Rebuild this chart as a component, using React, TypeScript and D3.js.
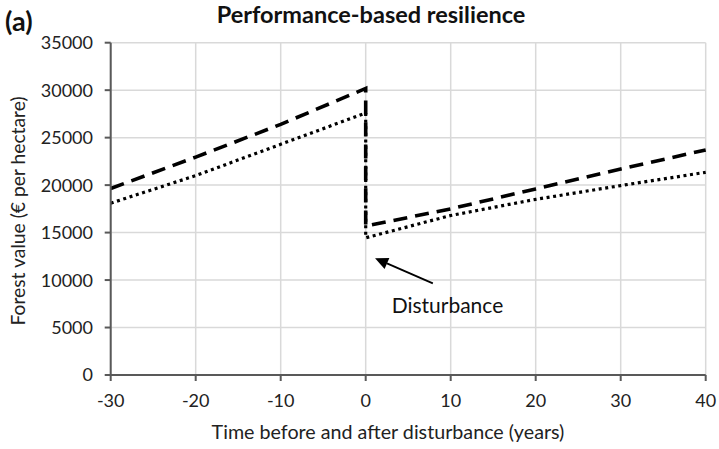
import React from "react";
import * as d3 from "d3";

const years = [-30, -20, -10, 0, 0, 10, 20, 30, 40];
const dashedValues = [19650, 22950, 26400, 30180, 15680, 17500, 19600, 21700, 23700];
const dottedValues = [18100, 21000, 24300, 27600, 14450, 16800, 18500, 19950, 21350];
const xTicks = [-30, -20, -10, 0, 10, 20, 30, 40];
const yTicks = [0, 5000, 10000, 15000, 20000, 25000, 30000, 35000];
const arrowFrom = [7.9, 9650];
const arrowTo = [1.1, 12300];
const labelAt = [3.05, 6500];

const W = 719, H = 449;
const left = 110.7, right = 705.7, top = 42.7, bottom = 375;
const FONT = "Lato, 'Open Sans', sans-serif";

export default function App() {
  const x = d3.scaleLinear().domain([-30, 40]).range([left, right]);
  const y = d3.scaleLinear().domain([0, 35000]).range([bottom, top]);
  const line = d3
    .line<number>()
    .x((_, i) => x(years[i]))
    .y((d) => y(d));
  const axisColor = "#595959";
  const gridColor = "#d9d9d9";

  const ax0 = x(arrowFrom[0]), ay0 = y(arrowFrom[1]);
  const ax1 = x(arrowTo[0]), ay1 = y(arrowTo[1]);
  const ang = Math.atan2(ay1 - ay0, ax1 - ax0);
  const hl = 13, hw = 6;
  const bx = ax1 - hl * Math.cos(ang), by = ay1 - hl * Math.sin(ang);
  const head = [
    [ax1, ay1],
    [bx + hw * Math.sin(ang), by - hw * Math.cos(ang)],
    [bx - hw * Math.sin(ang), by + hw * Math.cos(ang)],
  ];

  return (
    <svg
      width={W}
      height={H}
      style={{ position: "absolute", left: 0, top: 0, background: "#fff" }}
      fontFamily={FONT}
    >
      <rect width={W} height={H} fill="#fff" />
      {yTicks.map((t) => (
        <line key={"gy" + t} x1={left} x2={right} y1={y(t)} y2={y(t)} stroke={gridColor} strokeWidth={1.5} />
      ))}
      {xTicks.map((t) => (
        <line key={"gx" + t} x1={x(t)} x2={x(t)} y1={top} y2={bottom} stroke={gridColor} strokeWidth={1.5} />
      ))}
      <path d={line(dashedValues) || ""} fill="none" stroke="#000" strokeWidth={3.6} strokeDasharray="14 8" />
      <path d={line(dottedValues) || ""} fill="none" stroke="#000" strokeWidth={3.2} strokeDasharray="3 3.6" />
      {/* axes */}
      <line x1={left} x2={left} y1={top} y2={bottom} stroke={axisColor} strokeWidth={2} />
      <line x1={left} x2={right} y1={bottom} y2={bottom} stroke={axisColor} strokeWidth={2} />
      {yTicks.map((t) => (
        <g key={"ty" + t}>
          <line x1={left - 6} x2={left} y1={y(t)} y2={y(t)} stroke={axisColor} strokeWidth={2} />
          <text x={93} y={y(t)} dy="0.36em" textAnchor="end" fontSize={18} fill="#222">
            {t}
          </text>
        </g>
      ))}
      {xTicks.map((t) => (
        <g key={"tx" + t}>
          <line x1={x(t)} x2={x(t)} y1={bottom} y2={bottom + 6} stroke={axisColor} strokeWidth={2} />
          <text x={x(t)} y={406.5} textAnchor="middle" fontSize={18} fill="#222">
            {t}
          </text>
        </g>
      ))}
      {/* annotation */}
      <line x1={ax0} y1={ay0} x2={bx} y2={by} stroke="#000" strokeWidth={1.8} />
      <polygon points={head.map((p) => p.join(",")).join(" ")} fill="#000" />
      <text x={x(labelAt[0])} y={y(labelAt[1])} fontSize={21} fill="#111">
        Disturbance
      </text>
      {/* titles */}
      <text x={371} y={23} textAnchor="middle" fontSize={23.5} fontWeight="bold" fill="#111">
        Performance-based resilience
      </text>
      <text x={5} y={31} fontSize={27} fontWeight="bold" fill="#111">
        (a)
      </text>
      <text x={388} y={439} textAnchor="middle" fontSize={19.7} fill="#222">
        Time before and after disturbance (years)
      </text>
      <text
        transform={`translate(25,211) rotate(-90)`}
        textAnchor="middle"
        fontSize={19.3}
        fill="#222"
      >
        Forest value (€ per hectare)
      </text>
    </svg>
  );
}
